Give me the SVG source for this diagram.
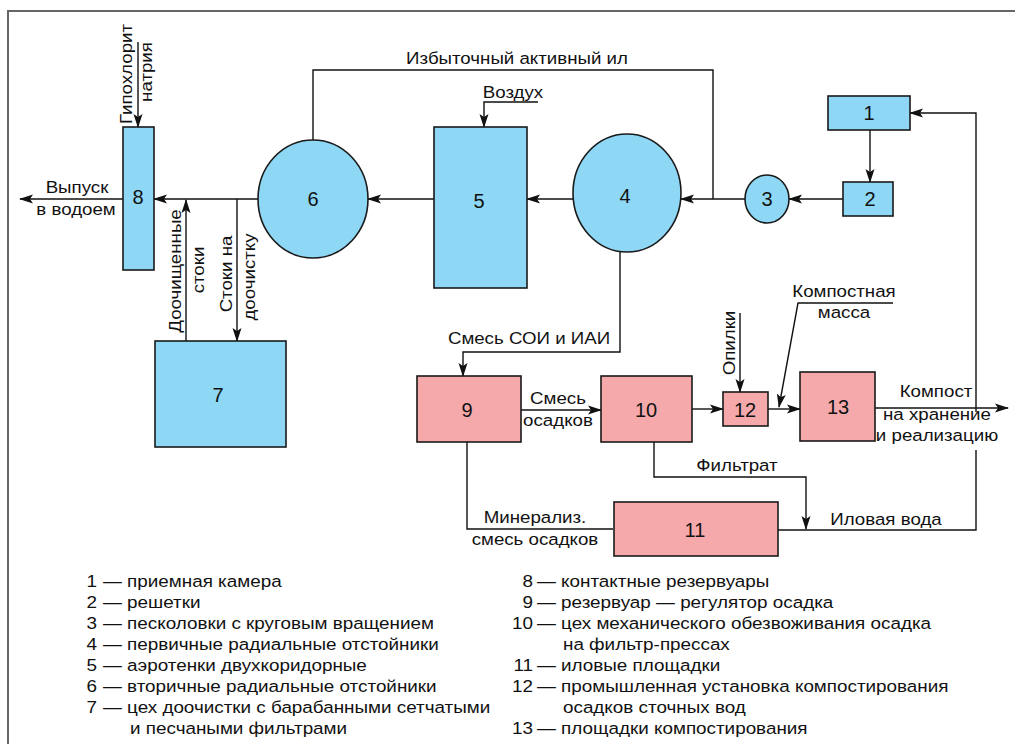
<svg xmlns="http://www.w3.org/2000/svg" width="1015" height="744" viewBox="0 0 1015 744">
<defs>
<style>
text{font-family:"Liberation Sans",Arial,sans-serif;fill:#111;}
.t{font-size:17px;}
.n{font-size:20px;text-anchor:middle;dominant-baseline:central;}
.m{text-anchor:middle;}
.lg{font-size:17px;}
.blue{fill:#8ed7f5;stroke:#1a1a1a;stroke-width:1.6;}
.pink{fill:#f5a9ab;stroke:#1a1a1a;stroke-width:1.6;}
.c{fill:none;stroke:#111;stroke-width:1.4;}
.a{marker-end:url(#ah);}
</style>
<marker id="ah" markerUnits="userSpaceOnUse" markerWidth="14" markerHeight="10" viewBox="0 0 14 10" refX="13" refY="5" orient="auto">
<path d="M0,0.5 L14,5 L0,9.5 L3,5 Z" fill="#111"/>
</marker>
</defs>
<rect width="1015" height="744" fill="#fff"/>
<path d="M8,744 V11 H1015" fill="none" stroke="#666" stroke-width="2"/>

<g id="connectors">
<path class="c a" d="M138,42 V127"/>
<path class="c a" d="M259,199 H154"/>
<path class="c a" d="M123,199 H20"/>
<path class="c a" d="M186,341 V200"/>
<path class="c a" d="M237,199 V341"/>
<path class="c" d="M313,140 V70 H713 V199"/>
<path class="c a" d="M745,199 H681"/>
<path class="c a" d="M573,199 H527"/>
<path class="c a" d="M434,199 H368"/>
<path class="c a" d="M538,102 H484 V127"/>
<path class="c a" d="M870,130 V182"/>
<path class="c a" d="M843,199 H789"/>
<path class="c a" d="M620,252 V352 H463 V376"/>
<path class="c a" d="M521,410 H601"/>
<path class="c a" d="M692,409 H723"/>
<path class="c a" d="M768,409 H800"/>
<path class="c a" d="M875,408 H1008"/>
<path class="c a" d="M740,313 V392"/>
<path class="c a" d="M893,303 H798 L779,407"/>
<path class="c" d="M467,442 V529 H613"/>
<path class="c a" d="M654,442 V477 H806 V529"/>
<path class="c" d="M778,530 H976 V450"/>
<path class="c a" d="M976,412 V113 H910"/>
</g>

<g id="node1"><rect class="blue" x="828" y="96" width="82" height="34"/><text class="n" x="869" y="113">1</text></g>
<g id="node2"><rect class="blue" x="843" y="182" width="50" height="34"/><text class="n" x="870" y="199">2</text></g>
<g id="node3"><ellipse class="blue" cx="767" cy="199" rx="22" ry="24"/><text class="n" x="767" y="199">3</text></g>
<g id="node4"><ellipse class="blue" cx="627" cy="193" rx="54" ry="59"/><text class="n" x="625" y="196">4</text></g>
<g id="node5"><rect class="blue" x="434" y="127" width="93" height="161"/><text class="n" x="479" y="201">5</text></g>
<g id="node6"><ellipse class="blue" cx="313" cy="199" rx="55" ry="59"/><text class="n" x="313" y="199">6</text></g>
<g id="node7"><rect class="blue" x="155" y="341" width="131" height="106"/><text class="n" x="218" y="395">7</text></g>
<g id="node8"><rect class="blue" x="123" y="127" width="31" height="143"/><text class="n" x="138" y="197">8</text></g>
<g id="node9"><rect class="pink" x="417" y="376" width="104" height="66"/><text class="n" x="467" y="410">9</text></g>
<g id="node10"><rect class="pink" x="601" y="376" width="91" height="66"/><text class="n" x="646" y="410">10</text></g>
<g id="node11"><rect class="pink" x="614" y="502" width="164" height="54"/><text class="n" x="695" y="530">11</text></g>
<g id="node12"><rect class="pink" x="723" y="392" width="45" height="34"/><text class="n" x="745" y="410">12</text></g>
<g id="node13"><rect class="pink" x="800" y="372" width="75" height="69"/><text class="n" x="838" y="407">13</text></g>

<g id="labels" class="t">
<text transform="translate(132,74) rotate(-90) scale(1.1,1)" class="m">Гипохлорит</text>
<text transform="translate(152,72) rotate(-90) scale(1.1,1)" class="m">натрия</text>
<text transform="translate(77,193) scale(1.1,1)" class="m">Выпуск</text>
<text transform="translate(76,215) scale(1.1,1)" class="m">в водоем</text>
<text transform="translate(181,271) rotate(-90) scale(1.1,1)" class="m">Доочищенные</text>
<text transform="translate(204,270) rotate(-90) scale(1.1,1)" class="m">стоки</text>
<text transform="translate(232,274) rotate(-90) scale(1.1,1)" class="m">Стоки на</text>
<text transform="translate(255,277) rotate(-90) scale(1.1,1)" class="m">доочистку</text>
<text transform="translate(517,64) scale(1.1,1)" class="m">Избыточный активный ил</text>
<text transform="translate(513,98) scale(1.1,1)" class="m">Воздух</text>
<text transform="translate(529,344) scale(1.1,1)" class="m">Смесь СОИ и ИАИ</text>
<text transform="translate(558,404) scale(1.1,1)" class="m">Смесь</text>
<text transform="translate(558,426) scale(1.1,1)" class="m">осадков</text>
<text transform="translate(535,523) scale(1.1,1)" class="m">Минерализ.</text>
<text transform="translate(535,545) scale(1.1,1)" class="m">смесь осадков</text>
<text transform="translate(737,471) scale(1.1,1)" class="m">Фильтрат</text>
<text transform="translate(886,525) scale(1.1,1)" class="m">Иловая вода</text>
<text transform="translate(844,297) scale(1.1,1)" class="m">Компостная</text>
<text transform="translate(844,318) scale(1.1,1)" class="m">масса</text>
<text transform="translate(735,343) rotate(-90) scale(1.1,1)" class="m">Опилки</text>
<text transform="translate(936,397) scale(1.1,1)" class="m">Компост</text>
<text transform="translate(937,420) scale(1.1,1)" class="m">на хранение</text>
<text transform="translate(937,441) scale(1.1,1)" class="m">и реализацию</text>
</g>

<g id="legend" class="lg" transform="scale(1.11,1)">
<text x="87.4" y="587" text-anchor="end">1</text><text x="92.8" y="587">— приемная камера</text>
<text x="87.4" y="608" text-anchor="end">2</text><text x="92.8" y="608">— решетки</text>
<text x="87.4" y="629" text-anchor="end">3</text><text x="92.8" y="629">— песколовки с круговым вращением</text>
<text x="87.4" y="650" text-anchor="end">4</text><text x="92.8" y="650">— первичные радиальные отстойники</text>
<text x="87.4" y="671" text-anchor="end">5</text><text x="92.8" y="671">— аэротенки двухкоридорные</text>
<text x="87.4" y="692" text-anchor="end">6</text><text x="92.8" y="692">— вторичные радиальные отстойники</text>
<text x="87.4" y="713" text-anchor="end">7</text><text x="92.8" y="713">— цех доочистки с барабанными сетчатыми</text>
<text x="117.1" y="734">и песчаными фильтрами</text>
<text x="480.2" y="587" text-anchor="end">8</text><text x="483.8" y="587">— контактные резервуары</text>
<text x="480.2" y="608" text-anchor="end">9</text><text x="483.8" y="608">— резервуар — регулятор осадка</text>
<text x="480.2" y="629" text-anchor="end">10</text><text x="483.8" y="629">— цех механического обезвоживания осадка</text>
<text x="507.2" y="650">на фильтр-прессах</text>
<text x="480.2" y="671" text-anchor="end">11</text><text x="483.8" y="671">— иловые площадки</text>
<text x="480.2" y="692" text-anchor="end">12</text><text x="483.8" y="692">— промышленная установка компостирования</text>
<text x="507.2" y="713">осадков сточных вод</text>
<text x="480.2" y="734" text-anchor="end">13</text><text x="483.8" y="734">— площадки компостирования</text>
</g>
</svg>
